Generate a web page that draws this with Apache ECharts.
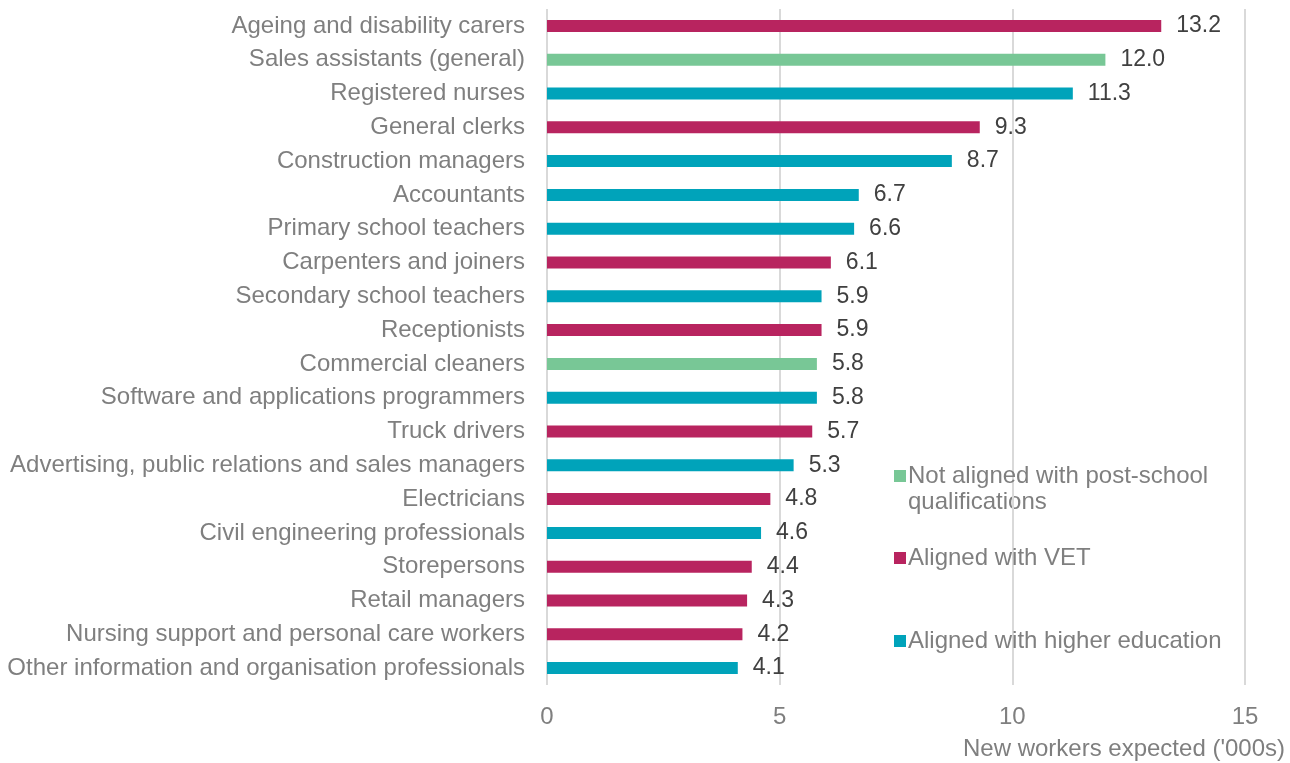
<!DOCTYPE html>
<html>
<head>
<meta charset="UTF-8">
<title>New workers expected by occupation</title>
<style>
  html, body { margin: 0; padding: 0; background: #fff; }
  #chart { width: 1290px; height: 763px; }
</style>
</head>
<body>
<div id="chart"></div>
<script src="https://cdn.jsdelivr.net/npm/echarts@6/dist/echarts.min.js"></script>
<script>
var occupations = [
  'Ageing and disability carers', 'Sales assistants (general)', 'Registered nurses',
  'General clerks', 'Construction managers', 'Accountants', 'Primary school teachers',
  'Carpenters and joiners', 'Secondary school teachers', 'Receptionists',
  'Commercial cleaners', 'Software and applications programmers', 'Truck drivers',
  'Advertising, public relations and sales managers', 'Electricians',
  'Civil engineering professionals', 'Storepersons', 'Retail managers',
  'Nursing support and personal care workers', 'Other information and organisation professionals'
];
var newWorkers = [13.2, 12.0, 11.3, 9.3, 8.7, 6.7, 6.6, 6.1, 5.9, 5.9,
                  5.8, 5.8, 5.7, 5.3, 4.8, 4.6, 4.4, 4.3, 4.2, 4.1];
// group of each occupation: N = not aligned, V = VET, H = higher education
var groups = ['V', 'N', 'H', 'V', 'H', 'H', 'H', 'V', 'H', 'V',
              'N', 'H', 'V', 'H', 'V', 'H', 'V', 'V', 'V', 'H'];
var groupKeys = ['N', 'V', 'H'];
var groupNames = ['Not aligned with post-school qualifications', 'Aligned with VET', 'Aligned with higher education'];
var groupColors = ['#78C796', '#B8245F', '#00A3BA'];
var xTicks = [0, 5, 10, 15];

var font = 'Liberation Sans, Arial, sans-serif';

var series = groupKeys.map(function(k, gi) {
  return {
    name: groupNames[gi],
    type: 'bar',
    stack: 'one',
    barWidth: 12,
    itemStyle: { color: groupColors[gi] },
    label: {
      show: true,
      position: 'right',
      distance: 15,
      color: '#404040',
      fontSize: 23,
      fontFamily: font,
      formatter: function(p) { return Number(p.value).toFixed(1); }
    },
    data: newWorkers.map(function(v, i) { return groups[i] === k ? v : '-'; })
  };
});

// legend boxes, one per group; the long first name wraps onto a second line
var legendTops = [457, 539, 622];
var legends = groupNames.map(function(n, i) {
  return {
    data: [n],
    left: 889,
    top: legendTops[i],
    itemWidth: 12,
    itemHeight: 12,
    icon: 'rect',
    selectedMode: false,
    textStyle: {
      color: '#7F7F7F',
      fontSize: 24,
      fontFamily: font,
      lineHeight: 28,
      padding: [0, 0, 0, -3]
    },
    formatter: function(name) {
      return name === groupNames[0] ? 'Not aligned with post-school' : name;
    }
  };
});

var myChart = echarts.init(document.getElementById('chart'));
var option = {
  animation: false,
  textStyle: { fontFamily: font },
  grid: { left: 547, right: 45, top: 9, bottom: 78, containLabel: false },
  legend: legends,
  graphic: [{
    type: 'text',
    left: 908,
    top: 488,
    style: { text: 'qualifications', fill: '#7F7F7F', fontSize: 24, fontFamily: font, lineHeight: 28 }
  }],
  xAxis: {
    type: 'value',
    min: xTicks[0],
    max: xTicks[xTicks.length - 1],
    interval: 5,
    name: "New workers expected ('000s)",
    nameLocation: 'end',
    nameGap: 40,
    nameTextStyle: {
      color: '#7F7F7F',
      fontSize: 24,
      fontFamily: font,
      align: 'right',
      verticalAlign: 'top',
      padding: [52, 0, 0, 0]
    },
    axisLine: { show: false },
    axisTick: { show: false },
    axisLabel: { color: '#7F7F7F', fontSize: 24, fontFamily: font, margin: 20 },
    splitLine: { show: true, lineStyle: { color: '#D9D9D9', width: 2 } }
  },
  yAxis: {
    type: 'category',
    inverse: true,
    data: occupations,
    axisLine: { show: false },
    axisTick: { show: false },
    axisLabel: { color: '#7F7F7F', fontSize: 24, fontFamily: font, margin: 22 }
  },
  series: series
};
myChart.setOption(option);
</script>
</body>
</html>
